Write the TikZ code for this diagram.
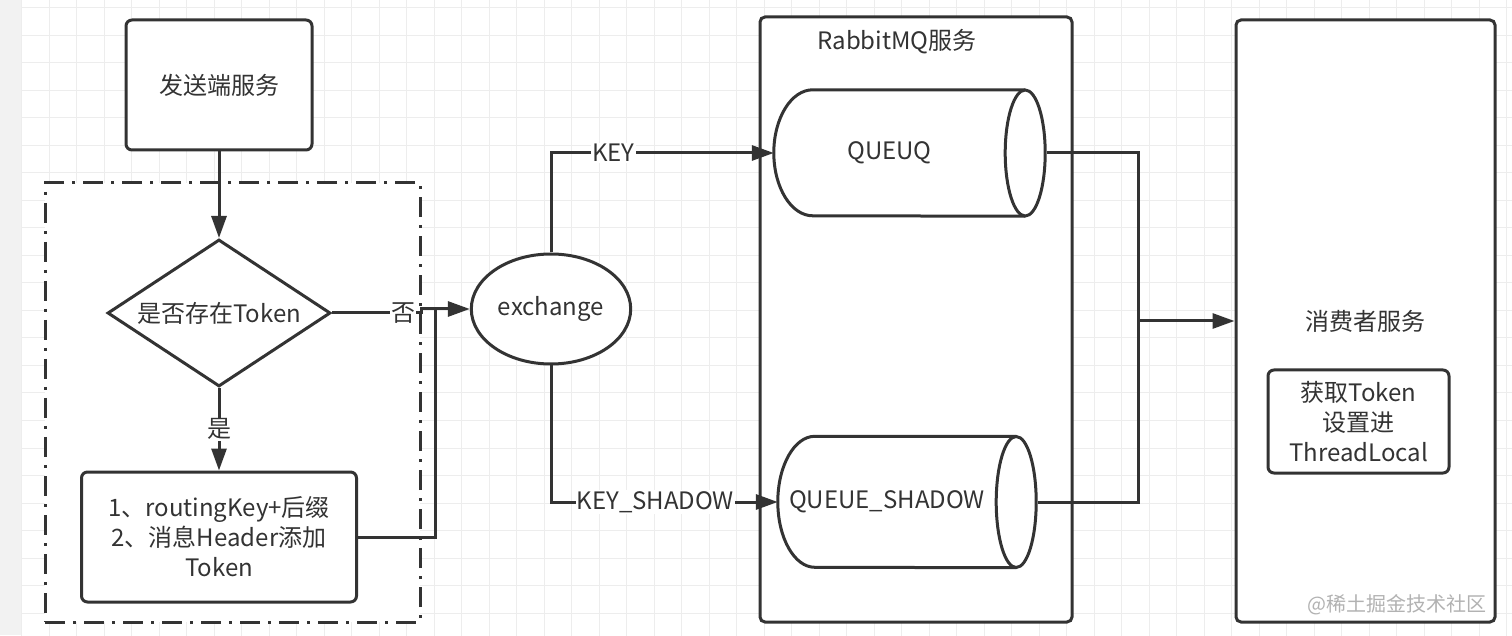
\documentclass[tikz,border=0pt]{standalone}
\usepackage{fontspec}
\setmainfont{Noto Sans CJK SC}
\usetikzlibrary{shapes.geometric, arrows.meta, calc}
\definecolor{ink}{HTML}{333333}
\tikzset{line/.style = {line width=3pt,draw=ink}}
\tikzset{arrow/.style = {line,-{Triangle[length=22pt,width=15pt]}}}
\tikzset{box/.style = {draw=ink,line width=3pt,fill=white,rounded corners=6pt,align=center,text=ink}}
\tikzset{container/.style = {draw=ink,line width=3pt,fill=white,rounded corners=5pt,text=ink}}
\tikzset{lbl/.style = {fill=white,inner sep=1pt,text=ink}}

\begin{document}
\begin{tikzpicture}[x=1pt,y=1pt,font=\fontsize{24}{30}\selectfont]
\useasboundingbox (0,0) rectangle (1512,635);
% background grid
\fill[white] (0,0) rectangle (1512,635);
\fill[black!5] (0,0) rectangle (21,635);
\begin{scope}
\clip (21,0) rectangle (1512,635);
\begin{scope}[shift={(21.7,22)}]
\draw[black!7,line width=1pt,step=27.5] (-27.5,-27.5) grid (1500,640);
\end{scope}
\end{scope}

% sender side
\node[draw=ink,line width=3pt,fill=white,dash pattern=on 20pt off 8pt on 3pt off 8pt,
  minimum width=375,minimum height=439] (group) at (232.5,232.5) {};
\node[box,minimum width=186,minimum height=130] (sender) at (219,550) {发送端服务};
\node[diamond,draw=ink,line width=3pt,fill=white,aspect=1.52,inner sep=0pt,text=ink,
  minimum width=223,minimum height=147] (dec) at (219,322) {是否存在Token};
\node[box,minimum width=275,minimum height=130] (proc) at (219,98)
  {1、routingKey+后缀\\2、消息Header添加\\Token};
\node[ellipse,draw=ink,line width=3pt,fill=white,text=ink,
  minimum width=148,minimum height=110] (ex) at (551,326) {exchange};

% rabbitmq
\node[container,minimum width=312,minimum height=605] (rmq) at (916,315.5) {};
\node[text=ink] (rmqtitle) at (897,593) {RabbitMQ服务};

\node[text=ink,minimum width=231,minimum height=126,inner sep=0pt] (q1) at (889.5,482) {QUEUQ};
\draw[line] ($(q1.north east)+(20,0)$) -- ($(q1.north west)+(39,0)$)
  arc[start angle=90,end angle=270,x radius=39,y radius=63] -- ($(q1.south east)+(20,0)$);
\node[ellipse,draw=ink,line width=3pt,fill=white,inner sep=0pt,
  minimum width=40,minimum height=126] (q1end) at ($(q1.east)+(20,0)$) {};

\node[text=ink,minimum width=218,minimum height=131,inner sep=0pt] (q2) at (887,133) {QUEUE\_SHADOW};
\draw[line] ($(q2.north east)+(20,0)$) -- ($(q2.north west)+(37,0)$)
  arc[start angle=90,end angle=270,x radius=37,y radius=65.5] -- ($(q2.south east)+(20,0)$);
\node[ellipse,draw=ink,line width=3pt,fill=white,inner sep=0pt,
  minimum width=40,minimum height=131] (q2end) at ($(q2.east)+(20,0)$) {};

% consumer
\node[container,minimum width=259,minimum height=602] (consumer) at (1365.5,314) {消费者服务};
\node[box,minimum width=181,minimum height=103,inner sep=2pt] (setter) at (1358.5,213.5)
  {获取Token\\设置进\\ThreadLocal};
\node[text=black!30,anchor=east,font=\fontsize{20}{24}\selectfont] (mark) at (1490,30) {@稀土掘金技术社区};

% connectors
\draw[arrow] (sender) -- (dec);
\draw[arrow] (dec) -- node[lbl]{是} (proc);
\draw[arrow] (dec.east) -- node[lbl,pos=0.8]{否} ++(89,0) |- (ex.west);
\coordinate (join) at (435,326);
\draw[line] (proc.east) -| (join);
\draw[arrow] (ex.north) |- node[lbl,pos=0.64]{KEY} (q1.west);
\draw[arrow] (ex.south) |- node[lbl,pos=0.73]{KEY\_SHADOW} (q2.west);
\coordinate (merge) at (1138,314);
\draw[line] (q1end.east) -| (merge);
\draw[line] (q2end.east) -| (merge);
\draw[arrow] (merge) -- (consumer.west);
\end{tikzpicture}
\end{document}
